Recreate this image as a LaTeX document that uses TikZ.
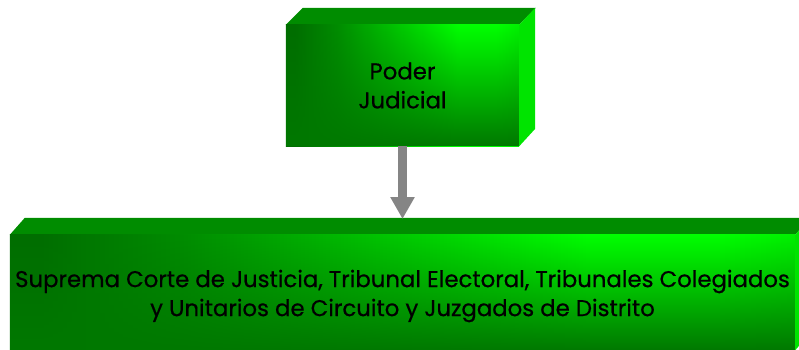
\documentclass[tikz,border=0pt]{standalone}
\usepackage{fontspec}
\setmainfont{Poppins}[FakeBold=0.6]
\usetikzlibrary{arrows.meta,fadings}
\definecolor{frontdark}{HTML}{006E00}
\definecolor{frontlight}{HTML}{00FF00}
\definecolor{bottomdark}{HTML}{007800}
\definecolor{topface}{HTML}{008C00}
\definecolor{sideface}{HTML}{00E400}
\definecolor{arrowgray}{HTML}{858585}
\pgfdeclarehorizontalshading{frontshade}{100bp}{%
  color(0bp)=(frontdark); color(27bp)=(frontdark); color(36bp)=(green!55!black);
  color(62bp)=(frontlight); color(70bp)=(frontlight); color(75bp)=(green!94!black); color(100bp)=(green!94!black)}
\tikzfading[name=fadeup, top color=transparent!100, middle color=transparent!100, bottom color=transparent!0]
\tikzset{
  box/.style={rectangle, inner sep=0pt, align=center, text=black},
  lbl/.style={box, font=\fontsize{22.8}{29}\selectfont},
  front/.style={shading=frontshade},
  topf/.style={fill=topface},
  sidef/.style={fill=sideface},
  link/.style={draw=arrowgray, line width=9pt, -{Triangle[width=23pt,length=22pt]}}
}
\begin{document}
\begin{tikzpicture}[x=1pt,y=-1pt]
\useasboundingbox (0,0) rectangle (799,350);
% top box
\node[box, minimum width=233pt, minimum height=121pt] (pj) at (402.5,85.5) {};
\fill[topf] (pj.north west) -- ++(17,-17) -- ++(233,0) -- (pj.north east) -- cycle;
\fill[sidef] (pj.north east) -- ++(16,-17) -- ++(0,121) -- (pj.south east) -- cycle;
\shade[front] (pj.north west) rectangle (pj.south east);
\fill[bottomdark, path fading=fadeup] (pj.north west) rectangle (pj.south east);
\node[lbl] at (pj.center) {Poder\\Judicial};
% bottom box
\node[box, minimum width=785pt, minimum height=115pt] (sc) at (402.5,292.5) {};
\fill[topf] (sc.north west) -- ++(15,-17) -- ++(785,0) -- (sc.north east) -- cycle;
\fill[sidef] (sc.north east) -- ++(15,-17) -- ++(0,115) -- (sc.south east) -- cycle;
\shade[front] (sc.north west) rectangle (sc.south east);
\fill[bottomdark, path fading=fadeup] (sc.north west) rectangle (sc.south east);
\node[lbl] at (402.5,296) {Suprema Corte de Justicia, Tribunal Electoral, Tribunales Colegiados\\y Unitarios de Circuito y Juzgados de Distrito};
% connector
\coordinate (tip) at (402.5,219);
\draw[link] (pj.south) -- (tip);
\end{tikzpicture}
\end{document}
